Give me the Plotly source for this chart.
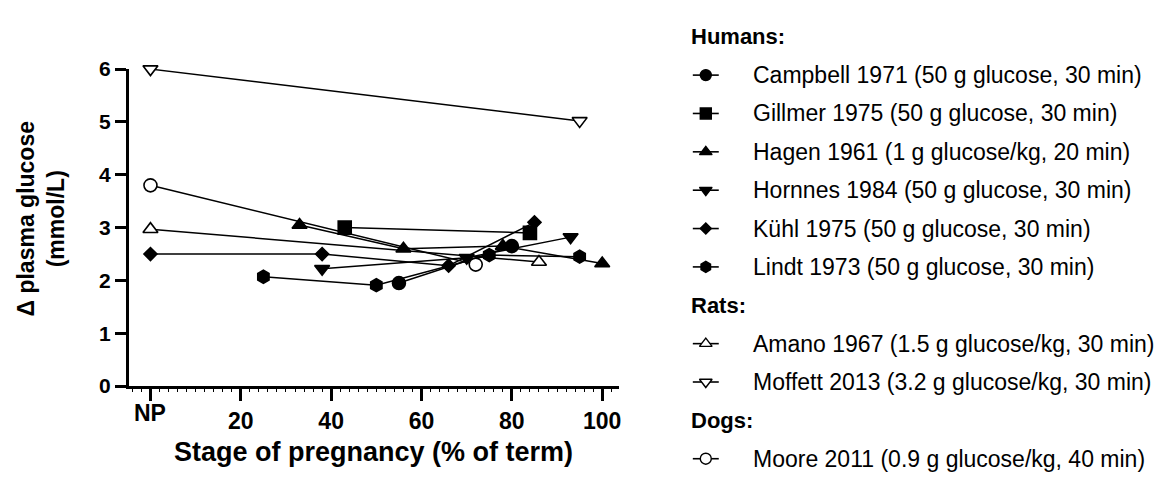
import plotly.graph_objects as go

W, H = 1168, 478
FONT = "Liberation Sans, Arial, sans-serif"

# ---------------- data ----------------
campbell_x = [55, 80]
campbell_y = [1.95, 2.65]
gillmer_x = [43, 84]
gillmer_y = [3.0, 2.9]
hagen_x = [33, 56, 78, 100]
hagen_y = [3.05, 2.6, 2.65, 2.32]
hornnes_x = [38, 70, 93]
hornnes_y = [2.22, 2.43, 2.82]
kuhl_x = [0, 38, 66, 85]
kuhl_y = [2.5, 2.5, 2.28, 3.1]
lindt_x = [25, 50, 75, 95]
lindt_y = [2.07, 1.91, 2.48, 2.45]
amano_x = [0, 86]
amano_y = [2.97, 2.35]
moffett_x = [0, 95]
moffett_y = [6.0, 5.02]
moore_x = [0, 72]
moore_y = [3.8, 2.3]

x_tick_vals = [0, 20, 40, 60, 80, 100]
x_tick_text = ["NP", "20", "40", "60", "80", "100"]
x_mid_vals = [10, 30, 50, 70, 90]
y_tick_vals = [0, 1, 2, 3, 4, 5, 6]

# (label, x, y, symbol, filled, size)
series = [
    ("Campbell 1971 (50 g glucose, 30 min)", campbell_x, campbell_y, "circle", True, 13),
    ("Gillmer 1975 (50 g glucose, 30 min)", gillmer_x, gillmer_y, "square", True, 13),
    ("Hagen 1961 (1 g glucose/kg, 20 min)", hagen_x, hagen_y, "triangle-up", True, 13),
    ("Hornnes 1984 (50 g glucose, 30 min)", hornnes_x, hornnes_y, "triangle-down", True, 13),
    ("Kühl 1975 (50 g glucose, 30 min)", kuhl_x, kuhl_y, "diamond", True, 10),
    ("Lindt 1973 (50 g glucose, 30 min)", lindt_x, lindt_y, "hexagon", True, 13),
    ("Amano 1967 (1.5 g glucose/kg, 30 min)", amano_x, amano_y, "triangle-up", False, 13),
    ("Moffett 2013 (3.2 g glucose/kg, 30 min)", moffett_x, moffett_y, "triangle-down", False, 13),
    ("Moore 2011 (0.9 g glucose/kg, 40 min)", moore_x, moore_y, "circle", False, 13),
]

legend_rows = [
    ("header", "Humans:"),
    ("item", 0), ("item", 1), ("item", 2), ("item", 3), ("item", 4), ("item", 5),
    ("header", "Rats:"),
    ("item", 6), ("item", 7),
    ("header", "Dogs:"),
    ("item", 8),
]

fig = go.Figure()

for name, xs, ys, sym, filled, sz in series:
    fig.add_trace(go.Scatter(
        x=xs, y=ys, mode="lines+markers", name=name,
        line=dict(color="black", width=1.5),
        marker=dict(symbol=sym, size=sz, color="black" if filled else "white",
                    line=dict(color="black", width=1.6)),
        cliponaxis=False, showlegend=False,
    ))

# plot-area geometry (pixels)
PL, PR, PT, PB = 129, 620, 60, 393

ROW0, ROWSTEP = 26, 40.3
SYM_X0, SYM_XC, SYM_X1 = 694, 707, 720
TEXT_X, HEAD_X = 752, 690

annotations = []
for i, (kind, val) in enumerate(legend_rows):
    py = ROW0 + ROWSTEP * i
    if kind == "header":
        annotations.append(dict(xref="x2", yref="y2", x=HEAD_X, y=py, text=val,
                                showarrow=False, xanchor="left", yanchor="middle",
                                font=dict(family=FONT, size=22, color="black", weight="bold")))
    else:
        name, xs, ys, sym, filled, sz = series[val]
        fig.add_trace(go.Scatter(
            x=[SYM_X0, SYM_X1], y=[py, py], mode="lines",
            line=dict(color="black", width=1.6),
            xaxis="x2", yaxis="y2", showlegend=False, hoverinfo="skip", cliponaxis=False))
        fig.add_trace(go.Scatter(
            x=[SYM_XC], y=[py], mode="markers",
            marker=dict(symbol=sym, size=round(sz * 0.85, 1),
                        color="black" if filled else "white",
                        line=dict(color="black", width=1.4)),
            xaxis="x2", yaxis="y2", showlegend=False, hoverinfo="skip", cliponaxis=False))
        annotations.append(dict(xref="x2", yref="y2", x=TEXT_X, y=py, text=name,
                                showarrow=False, xanchor="left", yanchor="middle",
                                font=dict(family=FONT, size=23, color="black")))

annotations.append(dict(xref="x", yref="y2", x=x_tick_vals[0], y=421, text=x_tick_text[0],
                        showarrow=False, xanchor="center", yanchor="middle",
                        font=dict(family=FONT, size=23, color="black", weight="bold")))
annotations.append(dict(xref="x2", yref="y2", x=(PL + PR) / 2, y=462,
                        text="Stage of pregnancy (% of term)", showarrow=False,
                        xanchor="center", yanchor="middle",
                        font=dict(family=FONT, size=27, color="black", weight="bold")))
annotations.append(dict(xref="x2", yref="y2", x=41, y=217,
                        text="Δ plasma glucose<br>(mmol/L)", showarrow=False, textangle=-90,
                        xanchor="center", yanchor="middle",
                        font=dict(family=FONT, size=23, color="black", weight="bold")))

xrange = [-4.8, 103.7]
fig.update_layout(
    width=W, height=H,
    margin=dict(l=0, r=0, t=0, b=0),
    paper_bgcolor="white", plot_bgcolor="rgba(0,0,0,0)",
    showlegend=False,
    font=dict(family=FONT, color="black"),
    xaxis=dict(
        domain=[PL / W, PR / W], range=xrange,
        showgrid=False, zeroline=False,
        showline=True, linewidth=3, linecolor="black",
        tickmode="array", tickvals=x_tick_vals, ticktext=[""] + x_tick_text[1:],
        ticks="outside", ticklen=12, tickwidth=3, tickcolor="black",
        tickfont=dict(family=FONT, size=23, color="black", weight="bold"),
        minor=dict(dtick=2, ticks="outside", ticklen=2.5, tickwidth=1, tickcolor="black"),
        fixedrange=True,
    ),
    xaxis3=dict(
        domain=[PL / W, PR / W], range=xrange, overlaying="x", anchor="y",
        showgrid=False, zeroline=False, showline=False,
        tickmode="array", tickvals=x_mid_vals, showticklabels=False,
        ticks="outside", ticklen=6, tickwidth=2.5, tickcolor="black",
        fixedrange=True,
    ),
    yaxis=dict(
        domain=[1 - PB / H, 1 - PT / H], range=[0, 6],
        showgrid=False, zeroline=False,
        showline=True, linewidth=3, linecolor="black",
        tickmode="array", tickvals=y_tick_vals,
        ticks="outside", ticklen=11, tickwidth=2.5, tickcolor="black",
        tickfont=dict(family=FONT, size=21, color="black", weight="bold"),
        fixedrange=True,
    ),
    xaxis2=dict(domain=[0, 1], range=[0, W], visible=False, anchor="y2", fixedrange=True),
    yaxis2=dict(domain=[0, 1], range=[H, 0], visible=False, anchor="x2", fixedrange=True),
    annotations=annotations,
)

fig.write_html("out.html")
